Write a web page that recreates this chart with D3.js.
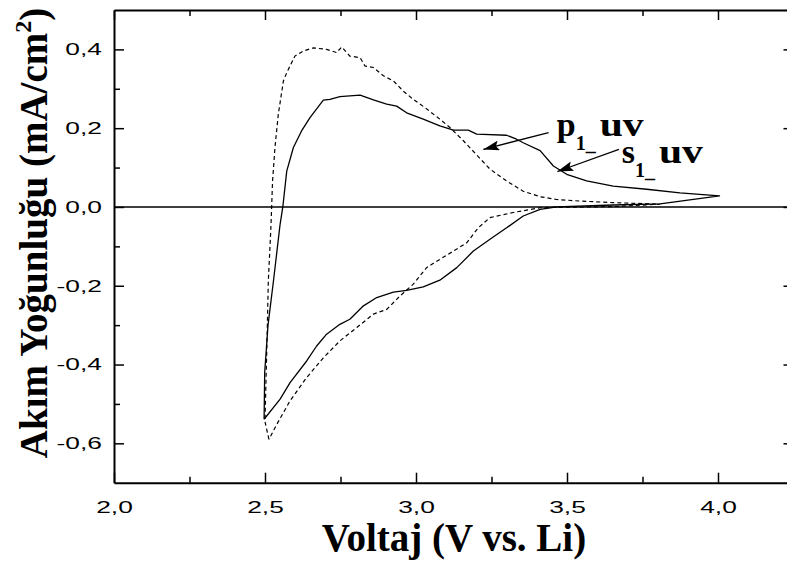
<!DOCTYPE html>
<html>
<head>
<meta charset="utf-8">
<script src="https://cdn.jsdelivr.net/npm/d3@7/dist/d3.min.js"></script>
<style>
  body { margin: 0; background: #fff; }
</style>
</head>
<body>
<div id="d3-container-cv"></div>
<script>

// s1_uv (solid line), read along the loop: anodic sweep, then back
const sVolt = [2.497, 2.499, 2.510, 2.528, 2.550, 2.559, 2.572, 2.594, 2.621, 2.649, 2.693, 2.715, 2.748, 2.781, 2.815,
    2.859, 2.903, 2.936, 2.969, 3.024, 3.079, 3.124, 3.173, 3.201, 3.300, 3.333, 3.355, 3.411, 3.455, 3.499,
    3.565, 3.653, 3.764, 3.874, 4.005,
    3.808, 3.653, 3.466, 3.411, 3.355, 3.300, 3.245, 3.190, 3.135, 3.079, 3.024, 2.969, 2.925, 2.870, 2.826,
    2.781, 2.748, 2.704, 2.671, 2.638, 2.583, 2.550, 2.497];
const sCurr = [-0.539, -0.420, -0.300, -0.188, -0.044, 0.000, 0.091, 0.151, 0.193, 0.227, 0.271, 0.273, 0.280, 0.282, 0.284,
    0.272, 0.261, 0.256, 0.239, 0.223, 0.206, 0.195, 0.195, 0.185, 0.182, 0.172, 0.163, 0.143, 0.104, 0.083,
    0.066, 0.053, 0.045, 0.036, 0.028,
    0.008, 0.005, 0.000, -0.006, -0.023, -0.053, -0.082, -0.112, -0.154, -0.186, -0.203, -0.212, -0.216, -0.230, -0.251,
    -0.285, -0.298, -0.323, -0.353, -0.391, -0.446, -0.488, -0.539];

// p1_uv (dashed line)
const pVolt = [2.513, 2.500, 2.503, 2.507, 2.511, 2.519, 2.522, 2.525, 2.533, 2.544, 2.561, 2.572, 2.599, 2.627, 2.660,
    2.704, 2.737, 2.754, 2.781, 2.815, 2.831, 2.859, 2.892, 2.925, 2.958, 2.991, 3.030, 3.079, 3.113, 3.157,
    3.201, 3.245, 3.300, 3.355, 3.411, 3.466, 3.543, 3.653, 3.808,
    3.653, 3.466, 3.411, 3.322, 3.245, 3.206, 3.168, 3.124, 3.079, 3.035, 2.991, 2.947, 2.903, 2.859, 2.804,
    2.748, 2.693, 2.638, 2.583, 2.539, 2.513];
const pCurr = [-0.590, -0.545, -0.450, -0.330, -0.188, -0.061, 0.000, 0.066, 0.151, 0.235, 0.320, 0.341, 0.383, 0.396, 0.404,
    0.400, 0.392, 0.406, 0.383, 0.379, 0.358, 0.354, 0.333, 0.320, 0.294, 0.273, 0.252, 0.223, 0.201, 0.168,
    0.132, 0.096, 0.066, 0.040, 0.026, 0.019, 0.015, 0.011, 0.007,
    0.001, -0.001, -0.002, -0.014, -0.027, -0.053, -0.091, -0.112, -0.133, -0.154, -0.196, -0.226, -0.260, -0.272, -0.306,
    -0.340, -0.383, -0.433, -0.492, -0.552, -0.590];

const xMajor = [2.0, 2.5, 3.0, 3.5, 4.0];
const xMinor = [2.25, 2.75, 3.25, 3.75];
const yMajor = [-0.6, -0.4, -0.2, 0.0, 0.2, 0.4];
const yMinor = [-0.5, -0.3, -0.1, 0.1, 0.3];

// labels: name, text anchor (V, I), arrow start, arrow tip
const labelNames = ["p", "s"];
const labelAt = [[3.466, 0.180], [3.681, 0.112]];
const arrowFrom = [[3.439, 0.189], [3.672, 0.146]];
const arrowTo = [[3.223, 0.146], [3.468, 0.090]];

//SVG
const width = 787;
const height = 563;
const margin = {t: 10, b: 80.3, l: 114, r: -6.5};

const svg = d3.select("#d3-container-cv")
    .append("svg")
    .attr("height", height)
    .attr("width", width)
    .attr("viewBox", [0, 0, width, height]);

const x = d3.scaleLinear()
    .domain([2.0, 4.25])
    .range([margin.l, width - margin.r]);
const y = d3.scaleLinear()
    .domain([-0.7, 0.5])
    .range([height - margin.b, margin.t]);

const locale = d3.formatLocale({decimal: ",", thousands: ".", grouping: [3], currency: ["", ""], minus: "-"});
const fmt = locale.format(".1f");

const sansFont = "'Liberation Sans', Arial, sans-serif";
const serifFont = "'Liberation Serif', 'Times New Roman', serif";

function styleAxis(g, lw) {
    g.select(".domain").attr("stroke-width", 2);
    g.selectAll(".tick line").attr("stroke-width", lw);
    g.selectAll(".tick text")
        .attr("font-family", sansFont)
        .attr("font-size", "17px")
        .attr("fill", "#000")
        .each(function () {
            // the original tick labels are drawn wide
            const w = this.getComputedTextLength();
            if (w > 0) {
                d3.select(this)
                    .attr("textLength", w * 1.55)
                    .attr("lengthAdjust", "spacingAndGlyphs");
            }
        });
}

// bottom
svg.append("g")
    .attr("transform", "translate(0," + y.range()[0] + ")")
    .call(d3.axisBottom(x).tickValues(xMajor).tickFormat(fmt).tickSize(-10).tickSizeOuter(0).tickPadding(18))
    .call(g => styleAxis(g, 1.5));
svg.append("g")
    .attr("transform", "translate(0," + y.range()[0] + ")")
    .call(d3.axisBottom(x).tickValues(xMinor).tickFormat("").tickSize(-6))
    .call(g => { g.select(".domain").remove(); g.selectAll("line").attr("stroke-width", 1.5); });

// top
svg.append("g")
    .attr("transform", "translate(0," + y.range()[1] + ")")
    .call(d3.axisTop(x).tickValues(xMajor).tickFormat("").tickSize(-10).tickSizeOuter(0))
    .call(g => styleAxis(g, 1.5));
svg.append("g")
    .attr("transform", "translate(0," + y.range()[1] + ")")
    .call(d3.axisTop(x).tickValues(xMinor).tickFormat("").tickSize(-6))
    .call(g => { g.select(".domain").remove(); g.selectAll("line").attr("stroke-width", 1.5); });

// left
svg.append("g")
    .attr("transform", "translate(" + x.range()[0] + ",0)")
    .call(d3.axisLeft(y).tickValues(yMajor).tickFormat(fmt).tickSize(-10).tickSizeOuter(0).tickPadding(12))
    .call(g => styleAxis(g, 1.5));
svg.append("g")
    .attr("transform", "translate(" + x.range()[0] + ",0)")
    .call(d3.axisLeft(y).tickValues(yMinor).tickFormat("").tickSize(-6))
    .call(g => { g.select(".domain").remove(); g.selectAll("line").attr("stroke-width", 1.5); });

// right
svg.append("g")
    .attr("transform", "translate(" + x.range()[1] + ",0)")
    .call(d3.axisRight(y).tickValues(yMajor).tickFormat("").tickSize(-10).tickSizeOuter(0))
    .call(g => styleAxis(g, 1.5));

// zero line
svg.append("line")
    .attr("x1", x(2.0))
    .attr("x2", x(4.25))
    .attr("y1", y(0))
    .attr("y2", y(0))
    .attr("stroke", "#000")
    .attr("stroke-width", 1.5);

const line = d3.line()
    .x(d => x(d[0]))
    .y(d => y(d[1]));

const sData = d3.zip(sVolt, sCurr);
const pData = d3.zip(pVolt, pCurr);

svg.append("path")
    .datum(sData)
    .attr("d", line)
    .attr("fill", "none")
    .attr("stroke", "#000")
    .attr("stroke-width", 1.3)
    .attr("stroke-linejoin", "round");

svg.append("path")
    .datum(pData)
    .attr("d", line)
    .attr("fill", "none")
    .attr("stroke", "#000")
    .attr("stroke-width", 1.2)
    .attr("stroke-dasharray", "4,3");

// arrow heads
svg.append("defs")
    .append("marker")
    .attr("id", "head")
    .attr("viewBox", "0 0 16 10")
    .attr("refX", 16)
    .attr("refY", 5)
    .attr("markerWidth", 16)
    .attr("markerHeight", 10)
    .attr("markerUnits", "userSpaceOnUse")
    .attr("orient", "auto")
    .append("path")
    .attr("d", "M0,0L16,5L0,10L3,5Z")
    .attr("fill", "#000");

labelNames.forEach((name, i) => {
    svg.append("line")
        .attr("x1", x(arrowFrom[i][0]))
        .attr("y1", y(arrowFrom[i][1]))
        .attr("x2", x(arrowTo[i][0]))
        .attr("y2", y(arrowTo[i][1]))
        .attr("stroke", "#000")
        .attr("stroke-width", 1.3)
        .attr("marker-end", "url(#head)");

    const lx = x(labelAt[i][0]);
    const ly = y(labelAt[i][1]);
    const t = svg.append("text")
        .attr("x", lx)
        .attr("y", ly)
        .attr("font-family", serifFont)
        .attr("font-weight", "bold")
        .attr("font-size", "34px")
        .attr("fill", "#000");
    t.append("tspan").text(name);
    t.append("tspan")
        .attr("font-size", "20px")
        .attr("dy", 14)
        .text("1_");
    const w = t.node().getComputedTextLength();

    svg.append("text")
        .attr("x", lx + w + 4)
        .attr("y", ly)
        .attr("font-family", serifFont)
        .attr("font-weight", "bold")
        .attr("font-size", "34px")
        .attr("fill", "#000")
        .attr("textLength", 44)
        .attr("lengthAdjust", "spacingAndGlyphs")
        .text("uv");
});

// axis titles
svg.append("text")
    .attr("x", 454)
    .attr("y", 551)
    .attr("text-anchor", "middle")
    .attr("font-family", serifFont)
    .attr("font-weight", "bold")
    .attr("font-size", "39px")
    .text("Voltaj (V vs. Li)");

const yt = svg.append("text")
    .attr("transform", "translate(47,233)rotate(-90)")
    .attr("text-anchor", "middle")
    .attr("font-family", serifFont)
    .attr("font-weight", "bold")
    .attr("font-size", "39px");
yt.append("tspan").text("Akım Yoğunluğu (mA/cm");
yt.append("tspan").attr("font-size", "24px").attr("dy", -16).text("2");
yt.append("tspan").attr("dy", 16).text(")");

</script>
</body>
</html>
